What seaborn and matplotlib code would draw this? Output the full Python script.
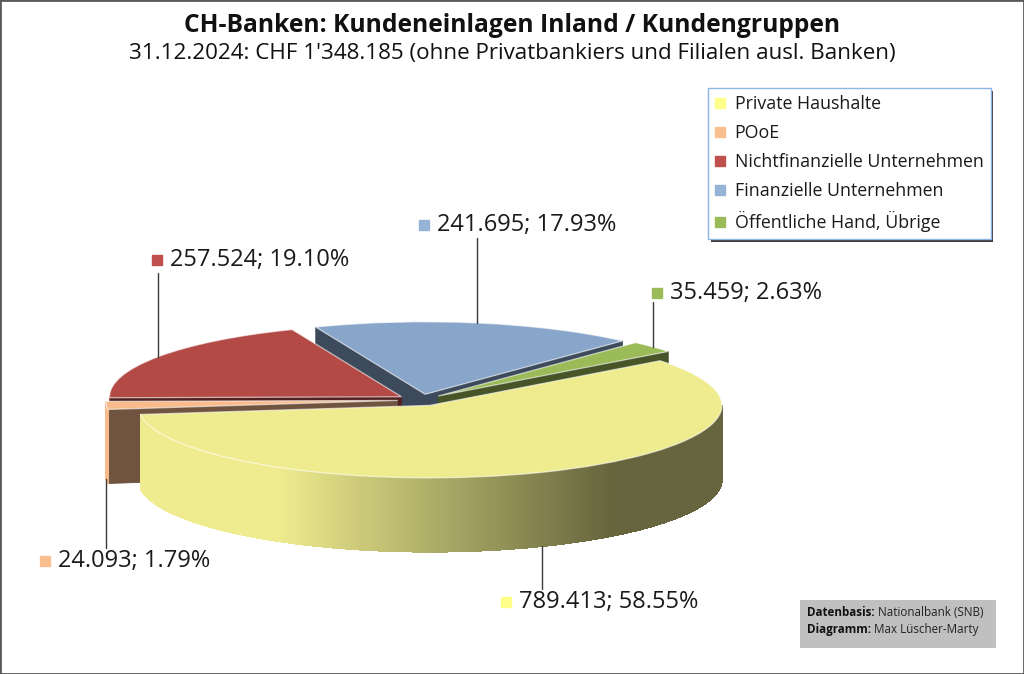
import numpy as np
import matplotlib
matplotlib.use('Agg')
import matplotlib.pyplot as plt
import matplotlib.colors as mcolors
from matplotlib.patches import Polygon, Rectangle
from matplotlib.collections import PolyCollection
from matplotlib.lines import Line2D
from matplotlib.text import Annotation
from matplotlib.transforms import offset_copy
import seaborn as sns

# data (CHF Mrd., 31.12.2024)
categories = ['Private Haushalte', 'POoE', 'Nichtfinanzielle Unternehmen',
              'Finanzielle Unternehmen', 'Öffentliche Hand, Übrige']
values = [789.413, 24.093, 257.524, 241.695, 35.459]
shares = [58.55, 1.79, 19.10, 17.93, 2.63]
top_colors = ['#EEEC8E', '#F9BB8C', '#B44A46', '#88A5CA', '#9BBB59']
legend_colors = ['#FFFF88', '#FABF8F', '#C0504D', '#95B3D7', '#9BBB59']

title = 'CH-Banken: Kundeneinlagen Inland / Kundengruppen'
subtitle = "31.12.2024: CHF 1'348.185 (ohne Privatbankiers und Filialen ausl. Banken)"

sns.set_theme(style='white')
plt.rcParams['font.family'] = ['Open Sans', 'DejaVu Sans']

W, H = 1024, 674
fig = plt.figure(figsize=(W / 100, H / 100), dpi=100)
ax = fig.add_axes([0, 0, 1, 1])

# pseudo 3D layout (pixels)
R_PX, RY_PX, CX, CY = 292, 72.5, 421, 400
DEPTH = 74 / RY_PX

wedges, _ = ax.pie(values, colors=top_colors, startangle=38, counterclock=False,
                   explode=[0.08] * 5,
                   wedgeprops=dict(edgecolor=(1, 1, 1, 0.6), linewidth=0.9))
ax.set_aspect('auto')
ax.set_xlim(-CX / R_PX, (W - CX) / R_PX)
ax.set_ylim((CY - H) / RY_PX, CY / RY_PX)
ax.axis('off')


def shade(c, f):
    r, g, b = mcolors.to_rgb(c)
    return (r * f, g * f, b * f)


def arc_pt(w, t):
    cx, cy = w.center
    return cx + w.r * np.cos(np.radians(t)), cy + w.r * np.sin(np.radians(t))


def mid(w):
    return (w.theta1 + w.theta2) / 2


order = sorted(range(len(wedges)), key=lambda i: -np.sin(np.radians(mid(wedges[i]))))
for k, i in enumerate(order):
    w = wedges[i]
    col = top_colors[i]
    cx, cy = w.center
    z = 2 + 2 * k
    # radial cut faces
    for t, vis in ((w.theta1, np.cos(np.radians(w.theta1)) > 0),
                   (w.theta2, np.cos(np.radians(w.theta2)) < 0)):
        if not vis:
            continue
        px, py = arc_pt(w, t)
        quad = [(cx, cy), (px, py), (px, py - DEPTH), (cx, cy - DEPTH)]
        ax.add_patch(Polygon(quad, closed=True, facecolor=shade(col, 0.45),
                             edgecolor=shade(col, 0.4), linewidth=0.5, zorder=z))
    # outer front wall with left-to-right shading
    ts = np.linspace(w.theta1, w.theta2, max(int(w.theta2 - w.theta1) * 2, 2))
    quads, fcs = [], []
    for a, b in zip(ts[:-1], ts[1:]):
        m = np.radians((a + b) / 2)
        if np.sin(m) >= 0:
            continue
        p1, p2 = arc_pt(w, a), arc_pt(w, b)
        quads.append([p1, p2, (p2[0], p2[1] - DEPTH), (p1[0], p1[1] - DEPTH)])
        f = np.clip(0.74 - 0.5 * np.cos(m), 0.43, 1.0)
        fcs.append(shade(col, f))
    if quads:
        ax.add_collection(PolyCollection(quads, facecolors=fcs, edgecolors=fcs,
                                         linewidths=0.4, antialiaseds=False,
                                         zorder=z))
    w.set_zorder(z + 1)

# data labels with leader lines
label_offsets = {  # (line length px, square dx px, square dy px) ; dy>0 = down
    0: (43, -36, 56),
    1: (69, -61, 82),
    2: (-84, -1, -97),
    3: (-85, -53, -98),
    4: (-45, 4, -54),
}
for i, w in enumerate(wedges):
    t = mid(w)
    px, py = arc_pt(w, t)
    if np.sin(np.radians(t)) < 0:
        py -= DEPTH
    ln, dx, dy = label_offsets[i]
    end = offset_copy(ax.transData, fig=fig, x=0, y=-ln, units='dots')
    x1, y1 = ax.transData.inverted().transform(end.transform((px, py)))
    ax.plot([px, x1], [py, y1], color='#3a3a3a', lw=1, zorder=20)
    sq = offset_copy(ax.transData, fig=fig, x=dx, y=-dy, units='dots')
    ax.plot([px], [py], marker='s', markersize=7.5, color=legend_colors[i],
            transform=sq, zorder=21)
    tx = offset_copy(ax.transData, fig=fig, x=dx + 13, y=-dy, units='dots')
    ax.text(px, py, f'{values[i]:.3f}; {shares[i]:.2f}%', transform=tx,
            ha='left', va='center', fontsize=17, color='#1a1a1a', zorder=21)

# titles
fig.text(0.5, 1 - 25 / H, title, ha='center', va='center', fontsize=17.7,
         fontweight='bold', color='#111111')
fig.text(0.5, 1 - 53 / H, subtitle, ha='center', va='center', fontsize=16.1,
         color='#111111')

# legend
handles = [Line2D([], [], marker='s', linestyle='none', markersize=7.5, color=c)
           for c in legend_colors]
leg = fig.legend(handles, categories, loc='upper left',
                 bbox_to_anchor=(708 / W, 1 - 88 / H), borderaxespad=0,
                 frameon=True, fancybox=False, edgecolor='#8DB4E2', framealpha=1,
                 shadow={'facecolor': '#1a1a1a', 'edgecolor': 'none', 'alpha': 0.85},
                 handlelength=0.6, handletextpad=0.5, labelspacing=0.62,
                 borderpad=0.4, fontsize=12.8)
for txt in leg.get_texts():
    txt.set_color('#1a1a1a')

# source box
fig.patches.append(Rectangle((800 / W, 1 - 648 / H), 196 / W, 48 / H,
                             transform=fig.transFigure, facecolor='#C0C0C0',
                             edgecolor='none', zorder=5))
for y, bold, rest in ((612, 'Datenbasis:', 'Nationalbank (SNB)'),
                      (630, 'Diagramm:', 'Max Lüscher-Marty')):
    b = fig.text(807 / W, 1 - y / H, bold, ha='left', va='center', fontsize=8.4,
                 fontweight='bold', color='#111111', zorder=6)
    fig.add_artist(Annotation(' ' + rest, xy=(1, 0.5), xycoords=b, ha='left',
                              va='center', fontsize=8.4, color='#222222',
                              zorder=6, annotation_clip=False))

# outer frame
fig.patches.append(Rectangle((0, 0), 1, 1, transform=fig.transFigure, fill=False,
                             edgecolor='#5a5a5a', linewidth=2, zorder=10))

fig.savefig('out.png', dpi=100, facecolor='white')
